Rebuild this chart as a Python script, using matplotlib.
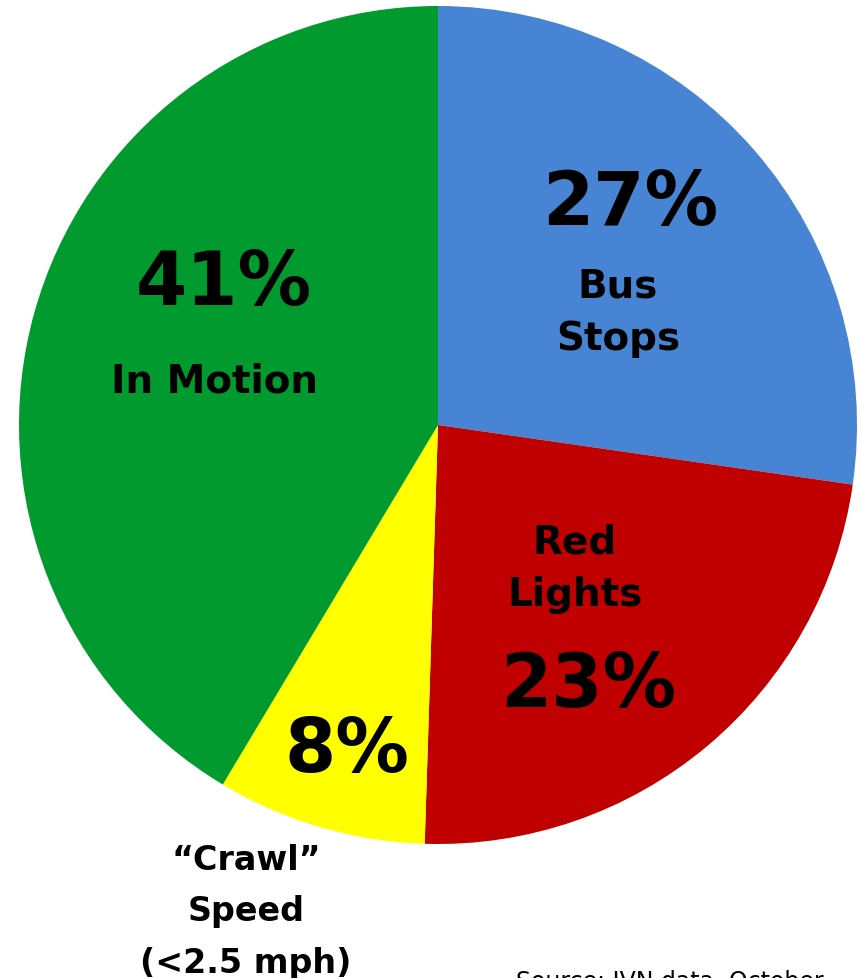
import matplotlib
matplotlib.use("Agg")
import matplotlib.pyplot as plt

# share of bus time by state (percent)
labels = ["Bus\nStops", "Red\nLights", "\u201cCrawl\u201d\nSpeed\n(<2.5 mph)", "In Motion"]
values = [27, 23, 8, 41]
pct_text = ["27%", "23%", "8%", "41%"]
colors = ["#4784D3", "#C00000", "#FFFF00", "#009A2E"]

W, H = 861, 979
fig = plt.figure(figsize=(W / 100, H / 100), dpi=100)
ax = fig.add_axes([0, 0, 1, 1])
ax.set_xlim(0, W)
ax.set_ylim(H, 0)  # pixel style coords, y down
ax.set_aspect("equal")
ax.axis("off")

cx, cy, r = 438, 426, 419
wedges, _ = ax.pie(values, colors=colors, startangle=90, counterclock=False,
                   center=(cx, -cy), radius=r, wedgeprops=dict(linewidth=0))
# pie draws with y up, flip it into our y-down axes
for w in wedges:
    w.set_center((cx, cy))
    t1, t2 = w.theta1, w.theta2
    w.set_theta1(-t2)
    w.set_theta2(-t1)
ax.set_xlim(0, W)
ax.set_ylim(H, 0)

big = dict(fontsize=53, fontweight="heavy", ha="center", va="center", color="black")
small = dict(fontsize=28, fontweight="heavy", ha="center", va="center", color="black",
             linespacing=1.5)

# percentages
ax.text(630, 204, pct_text[0], **big)
ax.text(588, 687, pct_text[1], **big)
ax.text(347, 752, pct_text[2], **big)
ax.text(224, 285, pct_text[3], **big)

# names
ax.text(618, 313, labels[0], **small)
ax.text(575, 569, labels[1], **small)
ax.text(214, 382, labels[3], **small)
crawl = dict(small, fontsize=24, linespacing=1.7)
ax.text(246, 912, labels[2], **crawl)

# source line is cut by the bottom edge in the original too
ax.text(516, 970, "Source: IVN data, October", fontsize=17, ha="left", va="top")

fig.savefig("out.png", dpi=100)
